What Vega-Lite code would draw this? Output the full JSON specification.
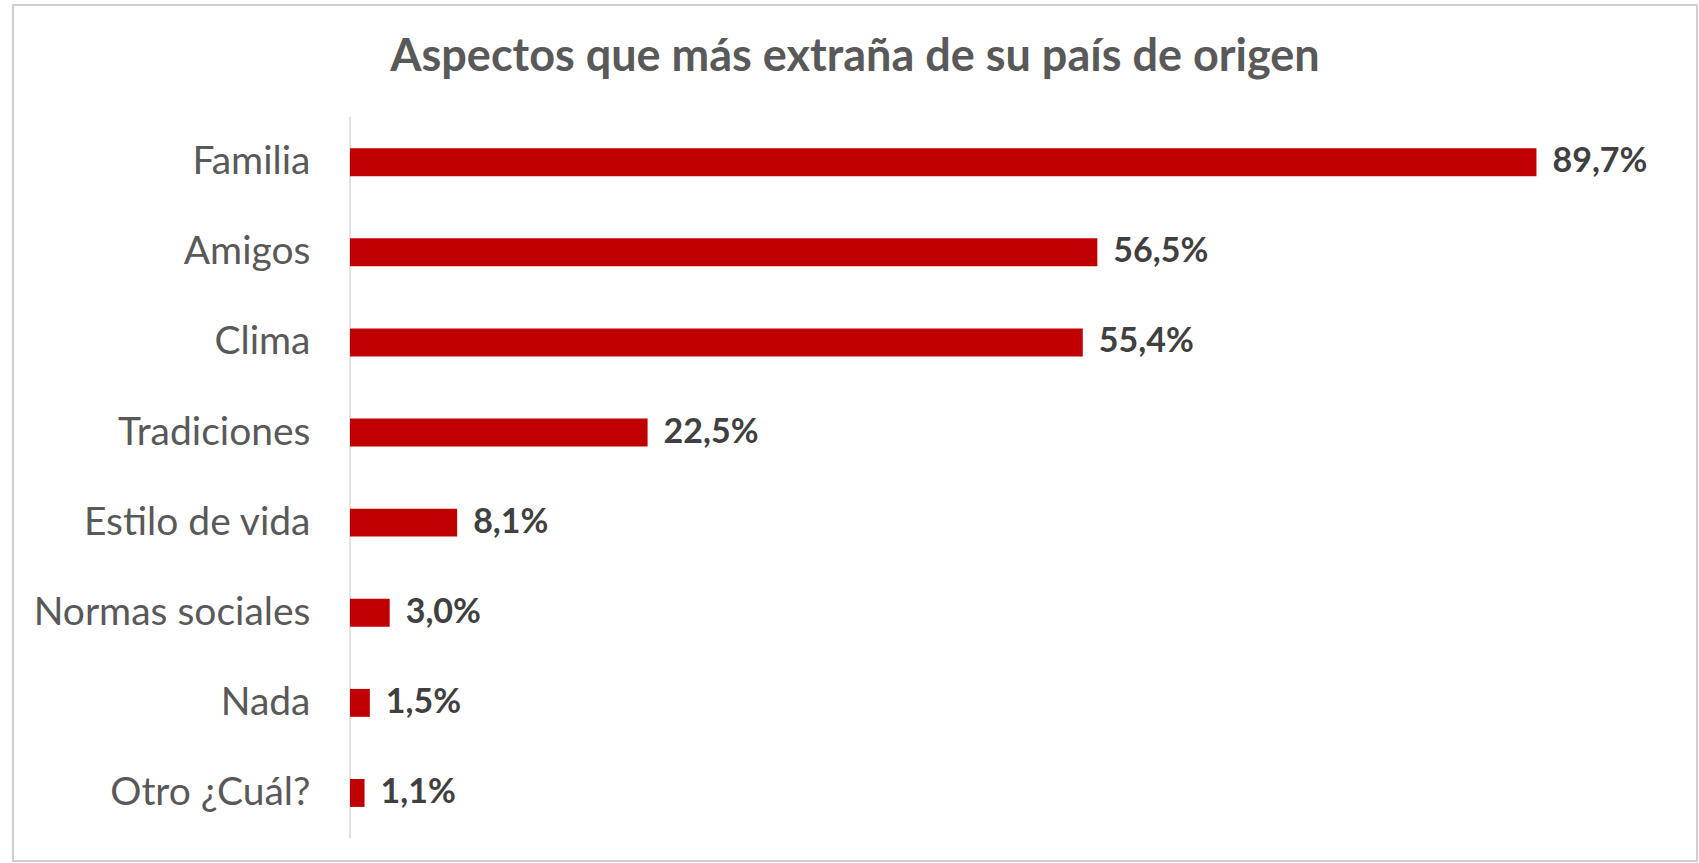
{
  "$schema": "https://vega.github.io/schema/vega-lite/v6.json",
  "autosize": {"type": "none"},
  "padding": {"left": 13, "top": 5, "right": 2, "bottom": 2},
  "width": 1684,
  "height": 856,
  "background": "white",
  "config": {
    "locale": {"number": {"decimal": ",", "thousands": ".", "grouping": [3], "currency": ["", " €"]}},
    "view": {"stroke": "#cfcfcf", "strokeWidth": 2},
    "font": "Lato"
  },
  "title": {
    "text": "Aspectos que más extraña de su país de origen",
    "fontSize": 45,
    "font": "Lato",
    "fontWeight": "bold",
    "color": "#595959",
    "anchor": "middle",
    "offset": -120,
    "baseline": "bottom"
  },
  "data": {
    "values": [
      {"aspecto": "Familia", "pct": 0.897},
      {"aspecto": "Amigos", "pct": 0.565},
      {"aspecto": "Clima", "pct": 0.554},
      {"aspecto": "Tradiciones", "pct": 0.225},
      {"aspecto": "Estilo de vida", "pct": 0.081},
      {"aspecto": "Normas sociales", "pct": 0.030},
      {"aspecto": "Nada", "pct": 0.015},
      {"aspecto": "Otro ¿Cuál?", "pct": 0.011}
    ]
  },
  "encoding": {
    "y": {
      "field": "aspecto",
      "type": "nominal",
      "sort": null,
      "scale": {"paddingInner": 0, "paddingOuter": 0.75, "align": 0.83},
      "axis": {
        "title": null,
        "offset": -337,
        "domain": false,
        "ticks": false,
        "labelPadding": 40,
        "labelFontSize": 39,
        "labelColor": "#595959",
        "labelFont": "Lato",
        "labelLimit": 500
      }
    }
  },
  "layer": [
    {
      "mark": {"type": "tick", "orient": "vertical", "color": "#d9d9d9", "thickness": 1.5, "size": 91, "opacity": 1},
      "encoding": {
        "x": {"datum": 0, "type": "quantitative", "scale": {"domain": [-0.25478, 1.01837], "nice": false, "zero": false}, "axis": null}
      }
    },
    {
      "mark": {"type": "bar", "color": "#C00000", "height": {"band": 0.31}},
      "encoding": {
        "x": {"field": "pct", "type": "quantitative"}
      }
    },
    {
      "mark": {"type": "text", "align": "left", "baseline": "middle", "dx": 16, "fontSize": 34, "fontWeight": "bold", "color": "#404040", "font": "Lato"},
      "encoding": {
        "x": {"field": "pct", "type": "quantitative"},
        "text": {"field": "pct", "type": "quantitative", "format": ".1%"}
      }
    }
  ]
}
